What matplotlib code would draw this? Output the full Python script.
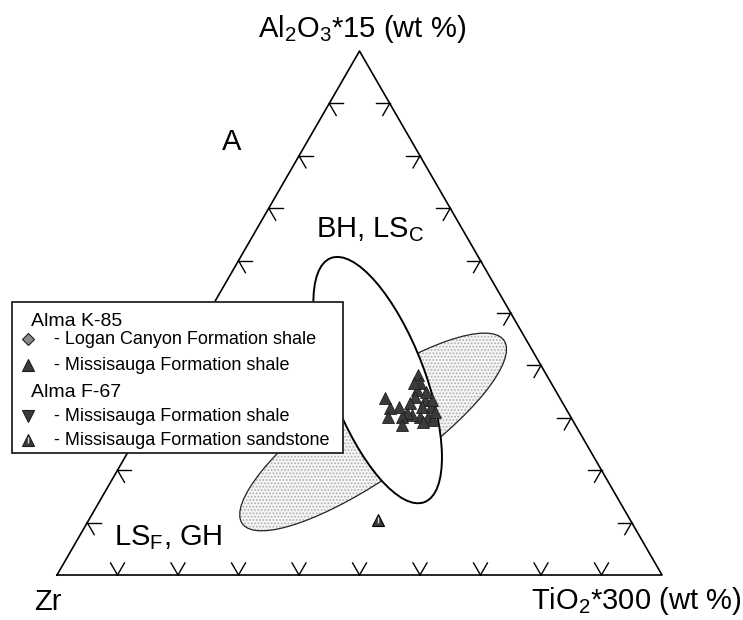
import numpy as np
import matplotlib
matplotlib.use('Agg')
import matplotlib.pyplot as plt
from matplotlib.patches import Ellipse, Rectangle

plt.rcParams['font.family'] = ['Liberation Sans', 'DejaVu Sans']
plt.rcParams['mathtext.fontset'] = 'custom'
plt.rcParams['mathtext.rm'] = 'Liberation Sans'
plt.rcParams['mathtext.it'] = 'Liberation Sans'
plt.rcParams['hatch.linewidth'] = 0.8

# ---- data (normalised fractions: Al2O3*15, TiO2*300, Zr) ----
# Alma K-85, Missisauga Formation shale
k85_mis_al = [0.382, 0.366, 0.353, 0.340, 0.334, 0.321, 0.302, 0.302, 0.305, 0.309, 0.302, 0.286,
              0.321, 0.319, 0.338, 0.302, 0.328, 0.321, 0.296, 0.292, 0.334, 0.366, 0.349, 0.311]
k85_mis_ti = [0.406, 0.417, 0.418, 0.422, 0.441, 0.457, 0.462, 0.449, 0.434, 0.424, 0.419, 0.427,
              0.404, 0.391, 0.373, 0.396, 0.419, 0.443, 0.473, 0.459, 0.453, 0.407, 0.435, 0.470]
k85_mis_zr = [0.212, 0.217, 0.229, 0.238, 0.225, 0.222, 0.236, 0.249, 0.261, 0.267, 0.279, 0.287,
              0.275, 0.290, 0.289, 0.302, 0.253, 0.236, 0.231, 0.249, 0.213, 0.227, 0.216, 0.219]
# Alma K-85, Logan Canyon Formation shale (none plotted outside legend)
k85_log_al, k85_log_ti, k85_log_zr = [], [], []
# Alma F-67, Missisauga Formation shale (none plotted outside legend)
f67_sh_al, f67_sh_ti, f67_sh_zr = [], [], []
# Alma F-67, Missisauga Formation sandstone
f67_ss_al = [0.105]
f67_ss_ti = [0.478]
f67_ss_zr = [0.417]

# provenance fields: centre composition (Al, Ti, Zr), full axes, angle
field_bh_centre = (0.372, 0.344, 0.284)
field_bh_axes = (0.432, 0.156)
field_bh_angle = 111.0
field_ls_centre = (0.273, 0.386, 0.341)
field_ls_axes = (0.528, 0.150)
field_ls_angle = 35.0

H = np.sqrt(3) / 2


def tern_xy(al, ti, zr):
    al = np.asarray(al, float)
    ti = np.asarray(ti, float)
    zr = np.asarray(zr, float)
    s = al + ti + zr
    a = al / s
    t = ti / s
    return t + a / 2, a * H


fig = plt.figure(figsize=(7.43, 6.20), dpi=100)
ax = fig.add_axes([0, 0, 1, 1])
ax.set_xlim(-57 / 605, (743 - 57) / 605)
ax.set_ylim((575 - 620) / 605, 575 / 605)
ax.axis('off')

# triangle frame
ax.plot([0, 1, 0.5, 0], [0, 0, H, 0], color='black', lw=1.2, zorder=3)

# tick marks (parallel to the other two sides)
L = 0.023
for i in range(1, 10):
    f = i / 10
    # bottom
    for d in [(-0.5, H), (0.5, H)]:
        ax.plot([f, f + L * d[0]], [0, L * d[1]], color='black', lw=1.0, zorder=3)
    # right side
    px, py = 1 - f / 2, f * H
    for d in [(-1, 0), (-0.5, -H)]:
        ax.plot([px, px + L * d[0]], [py, py + L * d[1]], color='black', lw=1.0, zorder=3)
    # left side
    px, py = f / 2, f * H
    for d in [(1, 0), (0.5, -H)]:
        ax.plot([px, px + L * d[0]], [py, py + L * d[1]], color='black', lw=1.0, zorder=3)

# LS_F, GH field (stippled)
cx, cy = tern_xy(*[[v] for v in field_ls_centre])
ax.add_patch(Ellipse((cx[0], cy[0]), field_ls_axes[0], field_ls_axes[1], angle=field_ls_angle,
                     facecolor='#f5f5f5', edgecolor='#acacac', lw=0, hatch='.....', zorder=1))
ax.add_patch(Ellipse((cx[0], cy[0]), field_ls_axes[0], field_ls_axes[1], angle=field_ls_angle,
                     facecolor='none', edgecolor='#222222', lw=0.9, zorder=1.5))

# BH, LS_C field (open)
cx, cy = tern_xy(*[[v] for v in field_bh_centre])
ax.add_patch(Ellipse((cx[0], cy[0]), field_bh_axes[0], field_bh_axes[1], angle=field_bh_angle,
                     facecolor='white', edgecolor='black', lw=1.4, zorder=2))

# samples
x, y = tern_xy(k85_mis_al, k85_mis_ti, k85_mis_zr)
ax.plot(x, y, '^', ms=8, mfc='#3a3a3a', mec='#1e1e1e', mew=0.6, zorder=4)
x, y = tern_xy(k85_log_al, k85_log_ti, k85_log_zr)
ax.plot(x, y, 'D', ms=6, mfc='#8a8a8a', mec='#333333', mew=1.0, zorder=4)
x, y = tern_xy(f67_sh_al, f67_sh_ti, f67_sh_zr)
ax.plot(x, y, 'v', ms=8, mfc='#3a3a3a', mec='#1e1e1e', mew=0.6, zorder=4)
x, y = tern_xy(f67_ss_al, f67_ss_ti, f67_ss_zr)
ax.plot(x, y, '^', ms=8, mfc='#3a3a3a', mec='black', mew=0.8, zorder=4)
ax.plot(x, y, marker='$|$', ms=4, color='#d8d8d8', ls='none', zorder=5)


def fp(px, py):
    return px / 743, 1 - py / 620


# corner and field labels
ax.text(*fp(362, 37), r'Al$_2$O$_3$*15 (wt %)', transform=ax.transAxes, fontsize=21,
        ha='center', va='baseline')
ax.text(*fp(34, 610), 'Zr', transform=ax.transAxes, fontsize=21, ha='left', va='baseline')
ax.text(*fp(741, 609), r'TiO$_2$*300 (wt %)', transform=ax.transAxes, fontsize=21,
        ha='right', va='baseline')
ax.text(*fp(232, 150), 'A', transform=ax.transAxes, fontsize=21, ha='center', va='baseline')
ax.text(*fp(316, 237), r'BH, LS$_\mathrm{C}$', transform=ax.transAxes, fontsize=21,
        ha='left', va='baseline')
ax.text(*fp(114, 545), r'LS$_\mathrm{F}$, GH', transform=ax.transAxes, fontsize=21,
        ha='left', va='baseline')

# legend box
bx, by = fp(12, 453)
ax.add_patch(Rectangle((bx, by), 331 / 743, 151 / 620, transform=ax.transAxes,
                       facecolor='white', edgecolor='#222222', lw=1.3, zorder=6))
ax.text(*fp(31, 326), 'Alma K-85', transform=ax.transAxes, fontsize=14, zorder=7)
ax.text(*fp(31, 397), 'Alma F-67', transform=ax.transAxes, fontsize=14, zorder=7)
entries = [(344, 'D', '#8a8a8a', 6, '- Logan Canyon Formation shale'),
           (370, '^', '#3a3a3a', 8, '- Missisauga Formation shale'),
           (421, 'v', '#3a3a3a', 8, '- Missisauga Formation shale'),
           (445, '^', '#3a3a3a', 8, '- Missisauga Formation sandstone')]
for py, mk, col, ms, label in entries:
    mx, my = fp(28, py - 5)
    ax.plot([mx], [my], mk, ms=ms, mfc=col, mec='#1e1e1e', mew=0.8,
            transform=ax.transAxes, zorder=7)
    ax.text(*fp(54, py), label, transform=ax.transAxes, fontsize=13, zorder=7)
mx, my = fp(28, 440)
ax.plot([mx], [my], marker='$|$', ms=4, color='#d8d8d8', ls='none',
        transform=ax.transAxes, zorder=8)

fig.savefig('out.png', dpi=100)
